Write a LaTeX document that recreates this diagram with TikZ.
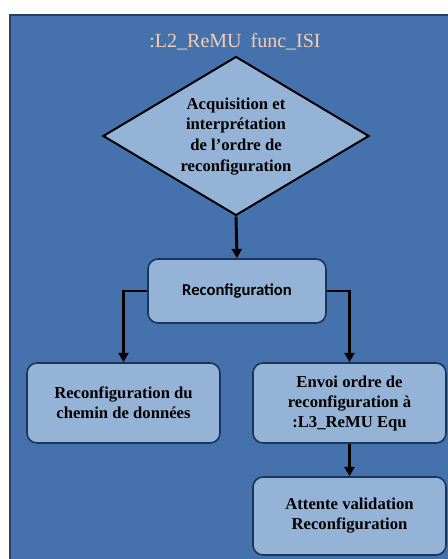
\documentclass[tikz,border=0pt]{standalone}
\usepackage{fontspec}
\setmainfont{Liberation Serif}
\newfontfamily\calibrifont{Carlito}
\usepackage{tikz}
\usetikzlibrary{shapes.geometric, arrows.meta, positioning}
\definecolor{myback}{RGB}{69,114,172}
\definecolor{myframe}{RGB}{38,64,100}
\definecolor{myfill}{RGB}{149,179,215}
\definecolor{myedge}{RGB}{23,54,93}
\definecolor{mytitle}{RGB}{244,204,180}
\tikzset{
  decision/.style={diamond, draw=black, fill=myfill, line width=1.5pt,
    minimum width=199.5pt, minimum height=119.25pt, inner sep=0pt,
    aspect=1.67, font=\bfseries\fontsize{12.5}{15.5}\selectfont},
  procbox/.style={rectangle, draw=myedge, fill=myfill, line width=1.2pt,
    rounded corners=7.5pt, minimum width=144.75pt, minimum height=60pt,
    align=center, font=\bfseries\fontsize{12.5}{15}\selectfont},
  flowarrow/.style={-{Triangle[length=7pt,width=7.5pt]}, line width=2.2pt, color=black}
}
\begin{document}
\begin{tikzpicture}[x=0.75pt, y=-0.75pt]
  \useasboundingbox (0,0) rectangle (448,559);
  \clip (0,0) rectangle (448,559);
  % Background frame
  \draw[line width=1.5pt, draw=myframe, fill=myback] (10,15) rectangle (470,580);
  \node[font=\fontsize{15}{18}\selectfont, text=mytitle] (title) at (235,42)
    {:L2\_ReMU\hspace{0.45em}func\_ISI};

  % Decision
  \node[decision] (acq) at (236,136)
    {\raisebox{-3pt}{\begin{tabular}{@{}c@{}}Acquisition et\\interprétation\\
      de l'ordre de\\reconfiguration\end{tabular}}};

  % Boxes
  \node[procbox, minimum width=133.5pt, minimum height=48pt,
    font=\calibrifont\bfseries\fontsize{12.5}{15}\selectfont] (reconf) at (237,291)
    {Reconfiguration};
  \node[procbox] (chemin) at (123.5,403) {Reconfiguration du\\chemin de données};
  \node[procbox] (envoi) at (349.5,403)
    {Envoi ordre de\\reconfiguration à\\:L3\_ReMU Equ};
  \node[procbox, minimum height=58.5pt] (attente) at (349.5,516)
    {Attente validation\\Reconfiguration};

  % Arrows
  \draw[flowarrow] (acq.south) -- (reconf.north);
  \draw[flowarrow] (reconf.west) -| (chemin.north);
  \draw[flowarrow] (reconf.east) -| (envoi.north);
  \draw[flowarrow] (envoi.south) -- (attente.north);
\end{tikzpicture}
\end{document}
